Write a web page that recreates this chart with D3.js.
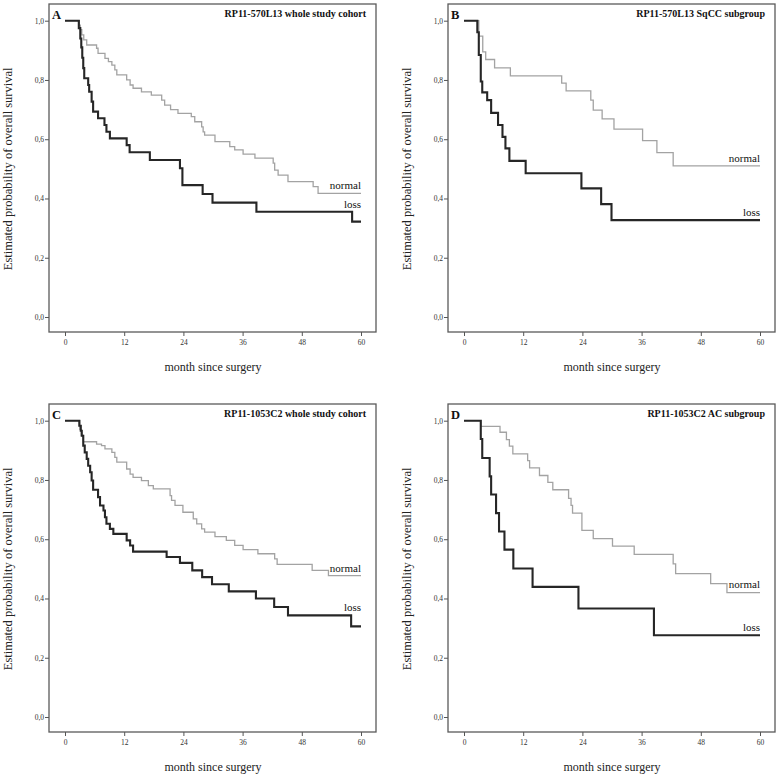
<!DOCTYPE html>
<html>
<head>
<meta charset="utf-8">
<script src="https://cdn.jsdelivr.net/npm/d3@7"></script>
<style>
  html, body { margin: 0; padding: 0; background: #fff; }
  svg { display: block; }
  svg text { font-family: "Liberation Serif", "Times New Roman", serif; }
</style>
</head>
<body>
<svg id="chart" width="781" height="775"></svg>
<script>
// ---- Data: Kaplan-Meier steps [month, survival] ----
const xTicks = [0, 12, 24, 36, 48, 60];
const yTicks = [0, 0.2, 0.4, 0.6, 0.8, 1.0];
const panelLetters = ["A", "B", "C", "D"];
const panelTitles = [
  "RP11-570L13 whole study cohort",
  "RP11-570L13 SqCC subgroup",
  "RP11-1053C2 whole study cohort",
  "RP11-1053C2 AC subgroup"
];
const seriesNames = ["normal", "loss"];
const maxMonth = 60;

const aNormal = [[0,1],[2.9,0.985],[3.1,0.97],[3.4,0.952],[3.8,0.935],[4.4,0.918],[6.4,0.907],[6.7,0.89],[8.1,0.873],[8.8,0.862],[9.5,0.85],[10.1,0.834],[10.5,0.817],[12.5,0.80],[13.2,0.783],[13.8,0.772],[15.5,0.76],[17.5,0.749],[19.6,0.732],[20.2,0.715],[21.4,0.70],[22.9,0.687],[25.6,0.676],[26.3,0.659],[27.7,0.642],[28.0,0.625],[28.3,0.614],[30.4,0.592],[33.4,0.575],[34.4,0.564],[36.1,0.55],[38.5,0.536],[42.2,0.519],[42.5,0.496],[43.2,0.479],[45.2,0.457],[50.3,0.44],[51.3,0.417]];
const aLoss = [[0,1],[2.8,0.975],[3.1,0.94],[3.3,0.91],[3.5,0.875],[3.7,0.84],[3.9,0.806],[4.7,0.783],[4.9,0.76],[5.4,0.727],[5.7,0.693],[6.7,0.671],[8.0,0.648],[8.4,0.625],[9.1,0.603],[12.5,0.58],[13.1,0.556],[17.2,0.53],[23.3,0.502],[23.8,0.445],[27.9,0.415],[29.9,0.386],[38.8,0.355],[58.2,0.322]];

const bNormal = [[0,1],[3.0,0.948],[3.8,0.895],[4.4,0.869],[6.2,0.841],[9.4,0.814],[19.8,0.789],[20.7,0.763],[25.7,0.732],[26.2,0.698],[28.0,0.669],[30.4,0.634],[36.2,0.595],[39.1,0.555],[42.4,0.51]];
const bLoss = [[0,1],[2.7,0.961],[3.0,0.884],[3.4,0.795],[3.7,0.758],[4.7,0.732],[5.5,0.689],[6.9,0.648],[7.8,0.608],[8.4,0.569],[9.2,0.527],[12.5,0.485],[23.8,0.434],[27.8,0.381],[29.9,0.327]];

const cNormal = [[0,1],[3.0,0.97],[3.3,0.95],[3.7,0.929],[6.4,0.921],[7.4,0.916],[8.1,0.905],[9.5,0.893],[10.1,0.876],[10.5,0.86],[12.5,0.837],[13.2,0.82],[13.8,0.809],[15.5,0.798],[16.9,0.781],[17.9,0.77],[21.3,0.747],[21.6,0.731],[22.3,0.714],[23.9,0.691],[26.0,0.669],[26.7,0.652],[27.7,0.635],[28.3,0.624],[30.4,0.609],[32.7,0.596],[34.4,0.579],[36.1,0.565],[39.1,0.551],[42.5,0.534],[43.0,0.515],[50.1,0.495],[53.4,0.477]];
const cLoss = [[0,1],[2.9,0.983],[3.2,0.966],[3.4,0.949],[3.7,0.916],[4.0,0.893],[4.4,0.871],[4.7,0.848],[5.1,0.826],[5.4,0.798],[5.7,0.767],[6.7,0.742],[7.1,0.714],[7.8,0.697],[8.1,0.674],[8.4,0.652],[9.1,0.635],[9.8,0.618],[12.5,0.596],[13.2,0.579],[13.8,0.558],[20.6,0.54],[23.3,0.52],[25.8,0.495],[27.8,0.472],[29.8,0.448],[33.2,0.424],[38.7,0.40],[42.4,0.371],[45.2,0.343],[58.0,0.306]];

const dNormal = [[0,1],[3.4,0.981],[7.3,0.961],[8.6,0.936],[9.2,0.914],[9.9,0.888],[12.9,0.865],[13.3,0.841],[15.3,0.815],[17.0,0.792],[18.0,0.767],[21.2,0.738],[21.7,0.714],[22.0,0.688],[23.9,0.63],[26.2,0.602],[30.1,0.577],[34.5,0.549],[42.4,0.517],[42.9,0.484],[50.0,0.45],[53.3,0.42]];
const dLoss = [[0,1],[3.4,0.938],[3.7,0.874],[5.2,0.812],[5.5,0.751],[6.5,0.688],[7.1,0.626],[8.2,0.565],[10.0,0.501],[13.9,0.439],[23.2,0.366],[38.5,0.276]];

const panelSeries = [[aNormal, aLoss], [bNormal, bLoss], [cNormal, cLoss], [dNormal, dLoss]];

// ---- Layout ----
const FONT = "Liberation Serif";
const svg = d3.select("#chart");
const W = 327, H = 328;
const origins = [[49, 4], [448, 4], [49, 404], [448, 404]];
const seriesStyle = [
  { stroke: "#a3a3a3", width: 1.3 },
  { stroke: "#262626", width: 2.1 }
];
const fmt = v => d3.format(".1f")(v).replace(".", ",");

function valueAt(steps, t) {
  let v = steps[0][1];
  for (const s of steps) { if (s[0] <= t) v = s[1]; }
  return v;
}

panelSeries.forEach((series, i) => {
  const [ox, oy] = origins[i];
  const g = svg.append("g").attr("transform", `translate(${ox},${oy})`)
    .attr("font-family", FONT);
  const x = d3.scaleLinear().domain([0, maxMonth]).range([16, 312]);
  const y = d3.scaleLinear().domain([0, 1]).range([313, 16.7]);

  // axes
  const ya = g.append("g").call(d3.axisLeft(y).tickValues(yTicks).tickSize(4).tickPadding(1).tickFormat(fmt));
  const xa = g.append("g").attr("transform", `translate(0,${H})`)
    .call(d3.axisBottom(x).tickValues(xTicks).tickSize(4).tickPadding(4));
  [ya, xa].forEach(a => {
    a.attr("font-family", FONT);
    a.select(".domain").remove();
    a.selectAll("line").attr("stroke", "#555").attr("stroke-width", 1);
    a.selectAll("text").attr("font-family", FONT).attr("font-size", 7.5).attr("fill", "#333");
  });

  // frame
  g.append("rect").attr("x", 0).attr("y", 0).attr("width", W).attr("height", H)
    .attr("fill", "none").attr("stroke", "#5a5a5a").attr("stroke-width", 1.3);

  // curves
  const line = d3.line().x(d => x(d[0])).y(d => y(d[1])).curve(d3.curveStepAfter);
  series.forEach((steps, k) => {
    const pts = steps.concat([[maxMonth, steps[steps.length - 1][1]]]);
    g.append("path").datum(pts).attr("d", line)
      .attr("fill", "none").attr("stroke", seriesStyle[k].stroke)
      .attr("stroke-width", seriesStyle[k].width).attr("stroke-linejoin", "miter");
    g.append("text").attr("x", x(maxMonth)).attr("y", y(valueAt(steps, 57)) - 8)
      .attr("dy", "0.35em").attr("text-anchor", "end").attr("font-family", FONT)
      .attr("font-size", 11).attr("fill", "#111").text(seriesNames[k]);
  });

  // letter and title
  g.append("text").attr("x", 3).attr("y", 14.5).attr("font-size", 12.5).attr("font-family", FONT)
    .attr("font-weight", "bold").attr("fill", "#111").text(panelLetters[i]);
  g.append("text").attr("x", 317).attr("y", 12.7).attr("text-anchor", "end").attr("font-family", FONT)
    .attr("font-size", 10).attr("font-weight", "bold").attr("fill", "#111").text(panelTitles[i]);

  // axis titles
  g.append("text").attr("transform", `translate(-37,${(y(0) + y(1)) / 2}) rotate(-90)`)
    .attr("text-anchor", "middle").attr("font-size", 12.5).attr("font-family", FONT).attr("fill", "#222")
    .text("Estimated probability of overall survival");
  g.append("text").attr("x", (x(0) + x(maxMonth)) / 2).attr("y", H + 38.5)
    .attr("text-anchor", "middle").attr("font-size", 12).attr("font-family", FONT).attr("fill", "#222")
    .text("month since surgery");
});
</script>
</body>
</html>
